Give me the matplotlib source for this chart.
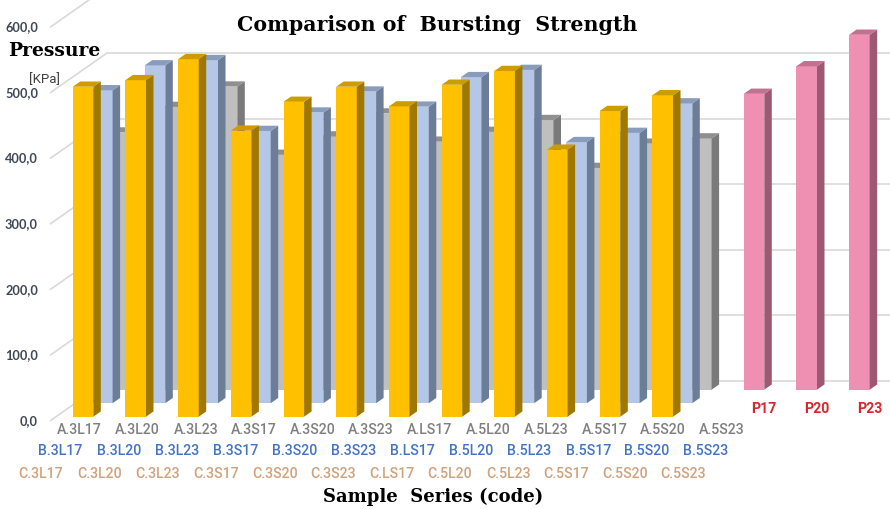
import matplotlib
matplotlib.use("Agg")
import matplotlib.pyplot as plt
from matplotlib.patches import Polygon

# ---- data -------------------------------------------------------------
labels_a = ["A.3L17", "A.3L20", "A.3L23", "A.3S17", "A.3S20", "A.3S23",
            "A.LS17", "A.5L20", "A.5L23", "A.5S17", "A.5S20", "A.5S23"]
labels_b = ["B.3L17", "B.3L20", "B.3L23", "B.3S17", "B.3S20", "B.3S23",
            "B.LS17", "B.5L20", "B.5L23", "B.5S17", "B.5S20", "B.5S23"]
labels_c = ["C.3L17", "C.3L20", "C.3L23", "C.3S17", "C.3S20", "C.3S23",
            "C.LS17", "C.5L20", "C.5L23", "C.5S17", "C.5S20", "C.5S23"]
values_a = [503, 513, 545, 436, 480, 503, 473, 506, 527, 407, 466, 490]
values_b = [477, 515, 523, 415, 443, 475, 452, 497, 508, 398, 412, 457]
values_c = [392, 431, 462, 358, 386, 421, 378, 393, 411, 338, 375, 383]
labels_p = ["P17", "P20", "P23"]
values_p = [451, 493, 541]
value_ticks = [0, 100, 200, 300, 400, 500, 600]

# ---- figure / oblique projection set-up ------------------------------
W, H, DPI = 890, 509, 100
fig = plt.figure(figsize=(W / DPI, H / DPI), dpi=DPI)
ax = fig.add_axes([0, 0, 1, 1])
ax.set_axis_off()

PX_CAT = 52.7      # pixels per category step
PX_VAL = 0.656     # pixels per kPa
X0, Y0 = 83.0, 416.7   # pixel position of first front bar centre / baseline
ax.set_xlim(-X0 / PX_CAT, (W - X0) / PX_CAT)
ax.set_ylim(-(H - Y0) / PX_VAL, Y0 / PX_VAL)

SLOPE = 0.70       # vertical rise per pixel of depth


def depth(z):
    """Data-space offset for a depth of z pixels into the chart."""
    return z / PX_CAT, SLOPE * z / PX_VAL


ROW_Z = [0.0, 19.3, 38.6]   # front faces of the three rows
BAR_Z = 7.5                 # bar depth
FRONT_Z, BACK_Z = -6.0, 51.0
BAR_W = 20.6 / PX_CAT
FLOOR_LEFT = (50 - X0) / PX_CAT

grid_c = "#d9d9d9"
# back-wall and side-wall gridlines with value labels
fx, fy = depth(FRONT_Z)
bx, by = depth(BACK_Z)
for v in value_ticks:
    ax.plot([FLOOR_LEFT, FLOOR_LEFT + bx - fx], [v + fy, v + by],
            color=grid_c, lw=1.2, zorder=0, solid_capstyle="butt")
    ax.plot([FLOOR_LEFT + bx - fx, ax.get_xlim()[1]], [v + by, v + by],
            color=grid_c, lw=1.2, zorder=0)
    ax.text(FLOOR_LEFT - 12 / PX_CAT, v + fy, f"{v:.1f}".replace(".", ","),
            ha="right", va="center", fontsize=9.2, fontweight="bold",
            color="#3f4656", family=["Lato", "DejaVu Sans"], zorder=6)


def draw_row(xs, vals, z, front, side, top, zo):
    ox, oy = depth(z)
    dx, dy = depth(BAR_Z)
    xs = [x + ox for x in xs]
    ax.bar(xs, vals, width=BAR_W, bottom=oy, color=front, linewidth=0,
           zorder=zo)
    for x, v in zip(xs, vals):
        x0, x1 = x - BAR_W / 2, x + BAR_W / 2
        b, t = oy, oy + v
        ax.add_patch(Polygon([(x1, b), (x1, t), (x1 + dx, t + dy), (x1 + dx, b + dy)],
                             closed=True, facecolor=side, lw=0, zorder=zo))
        ax.add_patch(Polygon([(x0, t), (x1, t), (x1 + dx, t + dy), (x0 + dx, t + dy)],
                             closed=True, facecolor=top, lw=0, zorder=zo))


idx = list(range(len(values_a)))
idx_p = [len(values_a) + k for k in range(len(values_p))]

draw_row(idx, values_c, ROW_Z[2], "#bfbfbf", "#7a7a7a", "#8f8f8f", 1)
draw_row(idx_p, values_p, ROW_Z[2], "#ef8fb1", "#9c5a72", "#c2718e", 1)
draw_row(idx, values_b, ROW_Z[1], "#b4c7e7", "#6c7d98", "#8a9cbb", 2)
draw_row(idx, values_a, ROW_Z[0], "#ffc000", "#a07800", "#cf9c00", 3)

# ---- category labels -------------------------------------------------
cat_font = ["Roboto", "DejaVu Sans"]
label_rows = [
    (labels_a, 79, 58.4, 430, "#7f7f7f"),
    (labels_b, 60, 58.7, 451, "#4472c4"),
    (labels_c, 41, 58.4, 474, "#cfa27c"),
]
for labs, start, step, ypx, col in label_rows:
    for k, lab in enumerate(labs):
        ax.text((start + k * step - X0) / PX_CAT, (Y0 - ypx) / PX_VAL, lab,
                ha="center", va="center", fontsize=10.2, fontweight="medium",
                color=col, family=cat_font, zorder=6)

ox, oy = depth(ROW_Z[2])
for i, lab in zip(idx_p, labels_p):
    ax.text(i + ox + 10 / PX_CAT, (Y0 - 409) / PX_VAL, lab, ha="center",
            va="center", fontsize=10.2, fontweight="bold", color="#d9262e",
            family=cat_font, zorder=6)

# ---- titles ----------------------------------------------------------
fig.text(437 / W, 1 - 25 / H, "Comparison of  Bursting  Strength",
         ha="center", va="center", fontsize=14.8, fontweight="bold",
         family="DejaVu Serif", color="black")
fig.text(433 / W, 1 - 497 / H, "Sample  Series (code)", ha="center",
         va="center", fontsize=13, fontweight="bold", family="DejaVu Serif",
         color="black")
fig.text(54 / W, 1 - 51 / H, "Pressure", ha="center", va="center",
         fontsize=13.5, fontweight="bold", family="DejaVu Serif", color="black")
fig.text(44 / W, 1 - 80 / H, "[KPa]", ha="center", va="center",
         fontsize=9.5, color="#404040", family=cat_font)

fig.savefig("out.png", dpi=DPI)
